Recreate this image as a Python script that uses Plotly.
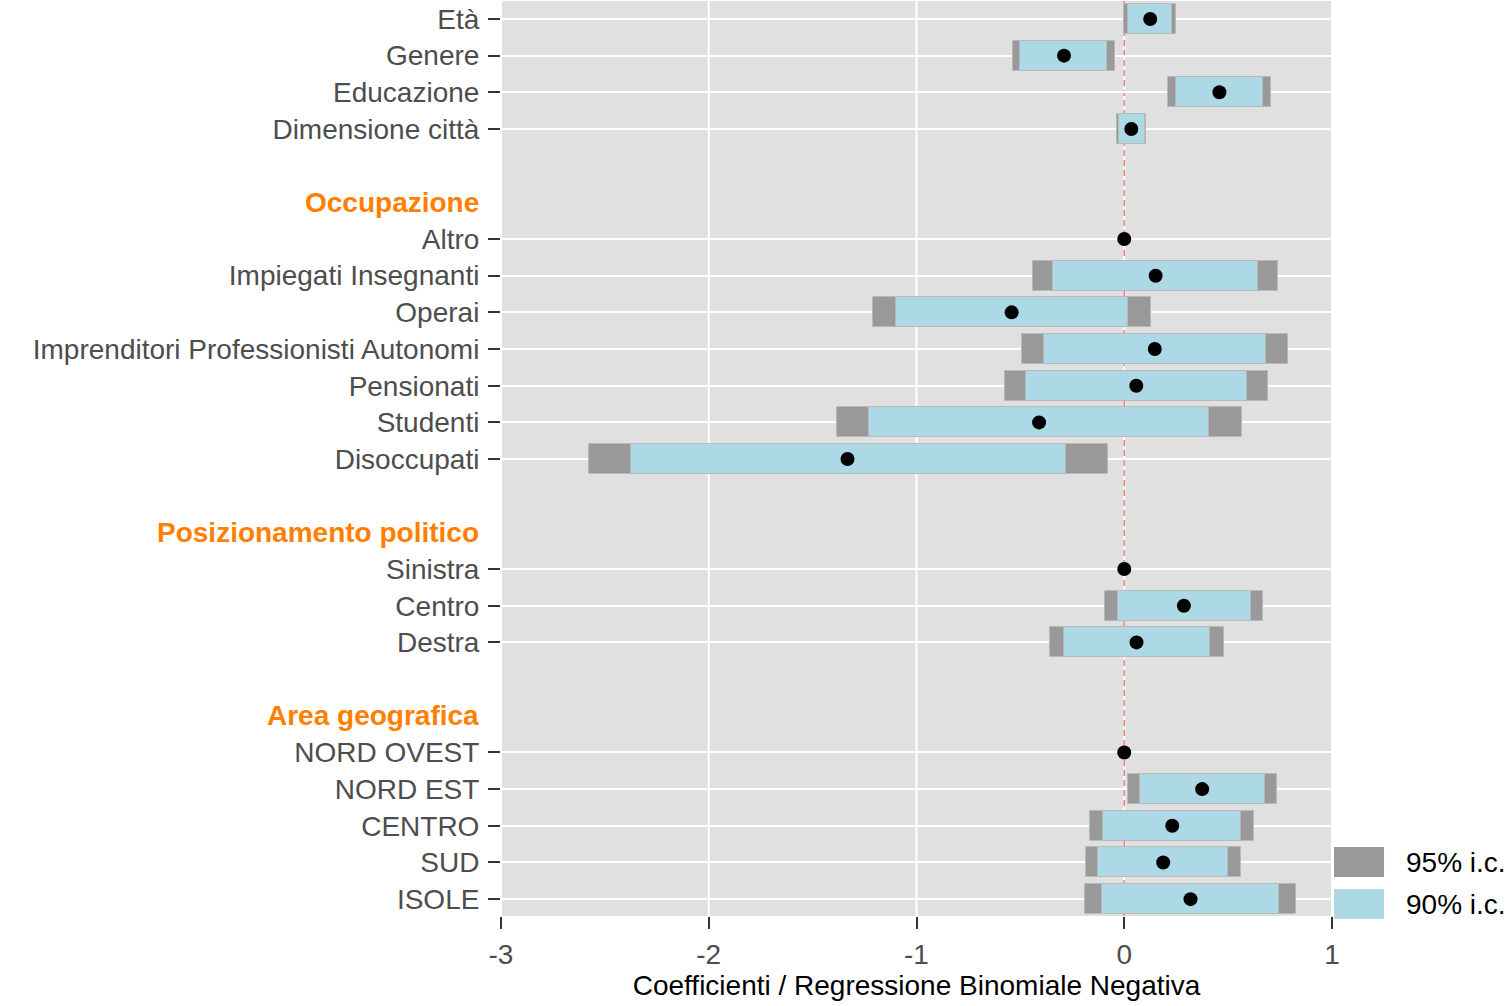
import plotly.graph_objects as go

# ---- data ----
groups = ["", "Occupazione", "Posizionamento politico", "Area geografica"]
group_items = [
    ["Età", "Genere", "Educazione", "Dimensione città"],
    ["Altro", "Impiegati Insegnanti", "Operai", "Imprenditori Professionisti Autonomi",
     "Pensionati", "Studenti", "Disoccupati"],
    ["Sinistra", "Centro", "Destra"],
    ["NORD OVEST", "NORD EST", "CENTRO", "SUD", "ISOLE"],
]
est = [0.125, -0.29, 0.458, 0.034,
       0.0, 0.151, -0.542, 0.147, 0.058, -0.41, -1.332,
       0.0, 0.287, 0.059,
       0.0, 0.375, 0.231, 0.1875, 0.319]
lo95 = [0.0, -0.537, 0.212, -0.037,
        None, -0.4375, -1.208, -0.492, -0.575, -1.385, -2.577,
        None, -0.093, -0.357,
        None, 0.019, -0.163, -0.184, -0.189]
hi95 = [0.251, -0.043, 0.707, 0.106,
        None, 0.739, 0.127, 0.787, 0.691, 0.566, -0.078,
        None, 0.668, 0.479,
        None, 0.734, 0.625, 0.561, 0.828]
lo90 = [0.019, -0.5, 0.248, -0.027,
        None, -0.341, -1.101, -0.388, -0.473, -1.228, -2.375,
        None, -0.032, -0.29,
        None, 0.075, -0.101, -0.125, -0.109]
hi90 = [0.232, -0.082, 0.668, 0.099,
        None, 0.646, 0.019, 0.683, 0.590, 0.41, -0.279,
        None, 0.609, 0.413,
        None, 0.678, 0.5625, 0.501, 0.747]
ref_value = 0
xtick_vals = [-3, -2, -1, 0, 1]
xtick_text = ["-3", "-2", "-1", "0", "1"]
legend_labels = ["95% i.c.", "90% i.c."]

# ---- row layout ----
labels, rows, header_rows = [], [], []
r = 0
for gi, (g, items) in enumerate(zip(groups, group_items)):
    if gi > 0:
        r += 1  # blank spacer
        header_rows.append((g, r))
        r += 1
    for it in items:
        labels.append(it)
        rows.append(r)
        r += 1
n_rows = r
y_range = [n_rows - 0.54, -0.49]

FONT = "Liberation Sans, Arial, sans-serif"
FS = 28
GREY = "#999999"
BLUE = "#ADD8E6"
OUTLINE = "rgba(185,185,185,1)"

fig = go.Figure()

# vertical grid lines + zero reference line, under the bars
for xv in xtick_vals:
    fig.add_shape(type="line", xref="x", yref="paper", x0=xv, x1=xv, y0=0, y1=1,
                  line=dict(color="white", width=2), layer="below")
fig.add_shape(type="line", xref="x", yref="paper", x0=ref_value, x1=ref_value, y0=0, y1=1,
              line=dict(color="#F08080", width=1.6, dash="6px,4px"), layer="below")

def bar_trace(lo, hi, color):
    ys, bases, lens = [], [], []
    for y, a, b in zip(rows, lo, hi):
        if a is None or b is None:
            continue
        ys.append(y); bases.append(a); lens.append(b - a)
    return go.Bar(y=ys, x=lens, base=bases, orientation="h", width=0.82,
                  marker=dict(color=color, line=dict(color=OUTLINE, width=1)),
                  showlegend=False, hoverinfo="skip")

fig.add_trace(bar_trace(lo95, hi95, GREY))
fig.add_trace(bar_trace(lo90, hi90, BLUE))
fig.add_trace(go.Scatter(x=est, y=rows, mode="markers",
                         marker=dict(color="black", size=14),
                         showlegend=False, hoverinfo="skip"))

# group headers
for g, rr in header_rows:
    fig.add_annotation(x=0, xref="paper", y=rr, yref="y", text="<b>%s</b>" % g,
                       showarrow=False, xanchor="right", xshift=-20,
                       font=dict(family=FONT, size=FS, color="#FF7F00"))

# custom legend
leg_colors = [GREY, BLUE]
leg_y = [(0.0426, 0.0754), (-0.0033, 0.0295)]
for c, (y0, y1), lab in zip(leg_colors, leg_y, legend_labels):
    fig.add_shape(type="rect", xref="paper", yref="paper", x0=1.0024, x1=1.0626,
                  y0=y0, y1=y1, fillcolor=c, line=dict(width=0))
    fig.add_annotation(x=1.087, xref="paper", y=(y0 + y1) / 2, yref="paper",
                       text=lab, showarrow=False, xanchor="left", yanchor="middle",
                       font=dict(family=FONT, size=FS, color="black"))

fig.update_layout(
    width=1509, height=1006,
    margin=dict(l=501, r=177, t=1, b=90),
    plot_bgcolor="#E0E0E0", paper_bgcolor="white",
    barmode="overlay", bargap=0,
    font=dict(family=FONT, size=FS, color="#4D4D4D"),
)
fig.update_xaxes(range=[-3, 1], tickvals=xtick_vals, ticktext=xtick_text,
                 showgrid=False, zeroline=False,
                 ticks="outside", ticklen=12, tickcolor="#333333", tickwidth=1.5,
                 ticklabelstandoff=1,
                 tickfont=dict(family=FONT, size=FS, color="#4D4D4D"),
                 title=dict(text="Coefficienti / Regressione Binomiale Negativa",
                            font=dict(family=FONT, size=FS, color="black"), standoff=2),
                 showline=False)
fig.update_yaxes(range=y_range, tickvals=rows, ticktext=labels,
                 showgrid=True, gridcolor="white", gridwidth=2, zeroline=False,
                 ticks="outside", ticklen=12, tickcolor="#333333", tickwidth=1.5,
                 ticklabelstandoff=3,
                 tickfont=dict(family=FONT, size=FS, color="#4D4D4D"),
                 showline=False)

fig.write_html("out.html", config={"displayModeBar": False},
               post_script="document.body.style.margin='0';")
